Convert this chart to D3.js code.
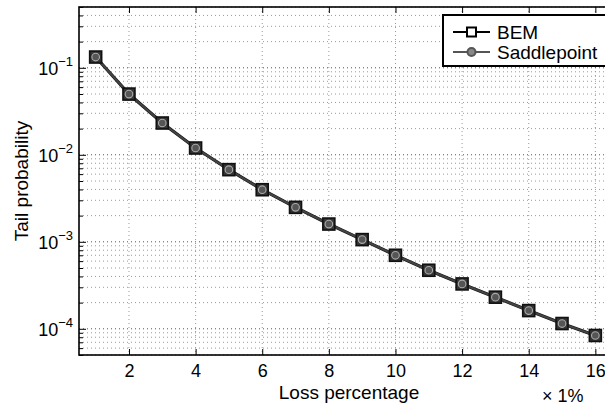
<!DOCTYPE html>
<html>
<head>
<meta charset="utf-8">
<script src="https://cdn.jsdelivr.net/npm/d3@7"></script>
<style>
  body { margin: 0; background: #fff; }
  svg { display: block; font-family: "Liberation Sans", Arial, sans-serif; }
</style>
</head>
<body>
<div id="chart"></div>
<script>
// Data
const lossPct = [1, 2, 3, 4, 5, 6, 7, 8, 9, 10, 11, 12, 13, 14, 15, 16];
const bem = [0.133, 0.0499, 0.0232, 0.01197, 0.00675, 0.00397, 0.00249, 0.0016,
  0.00106, 0.0007, 0.000471, 0.000328, 0.000231, 0.000162, 0.000115, 0.0000838];
const saddle = [0.133, 0.0499, 0.0232, 0.01197, 0.00675, 0.00397, 0.00249, 0.0016,
  0.00106, 0.0007, 0.000471, 0.000328, 0.000231, 0.000162, 0.000115, 0.0000838];
const xTicks = [2, 4, 6, 8, 10, 12, 14, 16];
const yExps = [-1, -2, -3, -4];
const seriesNames = ['BEM', 'Saddlepoint'];

const width = 605;
const height = 406;
const margin = { t: 7, l: 79 };
const plotW = 533;
const plotH = 348;

const svg = d3.select('#chart')
  .append('svg')
  .attr('width', width)
  .attr('height', height);

const g = svg.append('g')
  .attr('transform', `translate(${margin.l}, ${margin.t})`);

const xScale = d3.scaleLinear([0.5, 16.5], [0, plotW]);
const yScale = d3.scaleLog([5e-5, 0.5], [plotH, 0]);

// minor y values (2..9 per decade) inside the domain
const yMinor = [];
for (let e = -5; e <= -1; e++) {
  for (let m = 2; m <= 9; m++) {
    const v = m * 10 ** e;
    if (v >= 5e-5 && v <= 0.5) yMinor.push(v);
  }
}
const yMajor = yExps.map((e) => 10 ** e);

// grid
const grid = g.append('g').attr('stroke-dasharray', '1,3').attr('fill', 'none');
grid.selectAll('.gx')
  .data(xTicks)
  .join('line')
  .attr('x1', (d) => xScale(d)).attr('x2', (d) => xScale(d))
  .attr('y1', 0).attr('y2', plotH)
  .attr('stroke', '#999');
grid.selectAll('.gym')
  .data(yMinor)
  .join('line')
  .attr('x1', 0).attr('x2', plotW)
  .attr('y1', (d) => yScale(d)).attr('y2', (d) => yScale(d))
  .attr('stroke', '#999');
grid.selectAll('.gy')
  .data(yMajor)
  .join('line')
  .attr('x1', 0).attr('x2', plotW)
  .attr('y1', (d) => yScale(d)).attr('y2', (d) => yScale(d))
  .attr('stroke', '#555');

// axes (inward ticks, MATLAB style)
const xAxis = g.append('g')
  .attr('transform', `translate(0, ${plotH})`)
  .call(d3.axisBottom(xScale).tickValues(xTicks).tickSize(-6).tickPadding(8).tickFormat(d3.format('d')));
g.append('g')
  .call(d3.axisTop(xScale).tickValues(xTicks).tickSize(-6).tickFormat(''));
const yAxis = g.append('g')
  .call(d3.axisLeft(yScale).tickValues(yMajor).tickSize(-7).tickFormat(''));
g.append('g')
  .call(d3.axisLeft(yScale).tickValues(yMinor).tickSize(-4).tickFormat(''));

g.selectAll('.domain').remove();
g.selectAll('.tick line').attr('stroke', '#000').attr('stroke-width', 1);
xAxis.selectAll('text')
  .attr('fill', '#000')
  .style('font-size', '18px')
  .attr('dy', '0.75em');

// y tick labels 10^e
yExps.forEach((e) => {
  const t = yAxis.append('text')
    .attr('x', -6)
    .attr('y', yScale(10 ** e) + 7)
    .attr('text-anchor', 'end')
    .attr('fill', '#000')
    .style('font-size', '18px');
  t.append('tspan').text('10');
  t.append('tspan')
    .attr('dy', -9)
    .style('font-size', '13px')
    .text(`\u2212${-e}`);
});

// box
g.append('rect')
  .attr('width', plotW)
  .attr('height', plotH)
  .attr('fill', 'none')
  .attr('stroke', '#000')
  .attr('stroke-width', 1.6);

// lines
const line = (vals) => d3.line()
  .x((d, i) => xScale(lossPct[i]))
  .y((d) => yScale(d))(vals);

g.append('path')
  .attr('d', line(bem))
  .attr('fill', 'none')
  .attr('stroke', '#111')
  .attr('stroke-width', 3.2);
g.append('path')
  .attr('d', line(saddle))
  .attr('fill', 'none')
  .attr('stroke', '#444')
  .attr('stroke-width', 2.2);

// BEM square markers
g.selectAll('.sq')
  .data(bem)
  .join('rect')
  .attr('x', (d, i) => xScale(lossPct[i]) - 6)
  .attr('y', (d) => yScale(d) - 6)
  .attr('width', 12)
  .attr('height', 12)
  .attr('fill', '#333')
  .attr('stroke', '#111')
  .attr('stroke-width', 1.6);

// Saddlepoint circle markers
g.selectAll('.ci')
  .data(saddle)
  .join('circle')
  .attr('cx', (d, i) => xScale(lossPct[i]))
  .attr('cy', (d) => yScale(d))
  .attr('r', 3.8)
  .attr('fill', '#555')
  .attr('stroke', '#aaa')
  .attr('stroke-width', 1.1);

// axis names
svg.append('text')
  .attr('x', 349)
  .attr('y', 399)
  .attr('text-anchor', 'middle')
  .style('font-size', '19px')
  .text('Loss percentage');

svg.append('text')
  .attr('transform', 'translate(28, 181) rotate(-90)')
  .attr('text-anchor', 'middle')
  .style('font-size', '19px')
  .text('Tail probability');

svg.append('text')
  .attr('x', 542)
  .attr('y', 402)
  .style('font-size', '18px')
  .text('\u00d7 1%');

// legend
const legend = svg.append('g').attr('transform', 'translate(443, 15)');
legend.append('rect')
  .attr('width', 180)
  .attr('height', 51)
  .attr('fill', '#fff')
  .attr('stroke', '#000')
  .attr('stroke-width', 2);

const rows = legend.selectAll('.row')
  .data(seriesNames)
  .join('g')
  .attr('transform', (d, i) => `translate(0, ${17 + i * 20})`);

rows.append('line')
  .attr('x1', 10).attr('x2', 47)
  .attr('stroke', (d, i) => (i === 0 ? '#000' : '#555'))
  .attr('stroke-width', 2);

rows.filter((d, i) => i === 0)
  .append('rect')
  .attr('x', 24).attr('y', -4.5)
  .attr('width', 9).attr('height', 9)
  .attr('fill', '#fff')
  .attr('stroke', '#000')
  .attr('stroke-width', 2);

rows.filter((d, i) => i === 1)
  .append('circle')
  .attr('cx', 28.5)
  .attr('r', 4)
  .attr('fill', '#888')
  .attr('stroke', '#555')
  .attr('stroke-width', 2);

rows.append('text')
  .attr('x', 54)
  .attr('dy', '0.36em')
  .style('font-size', '19px')
  .text((d) => d);
</script>
</body>
</html>
